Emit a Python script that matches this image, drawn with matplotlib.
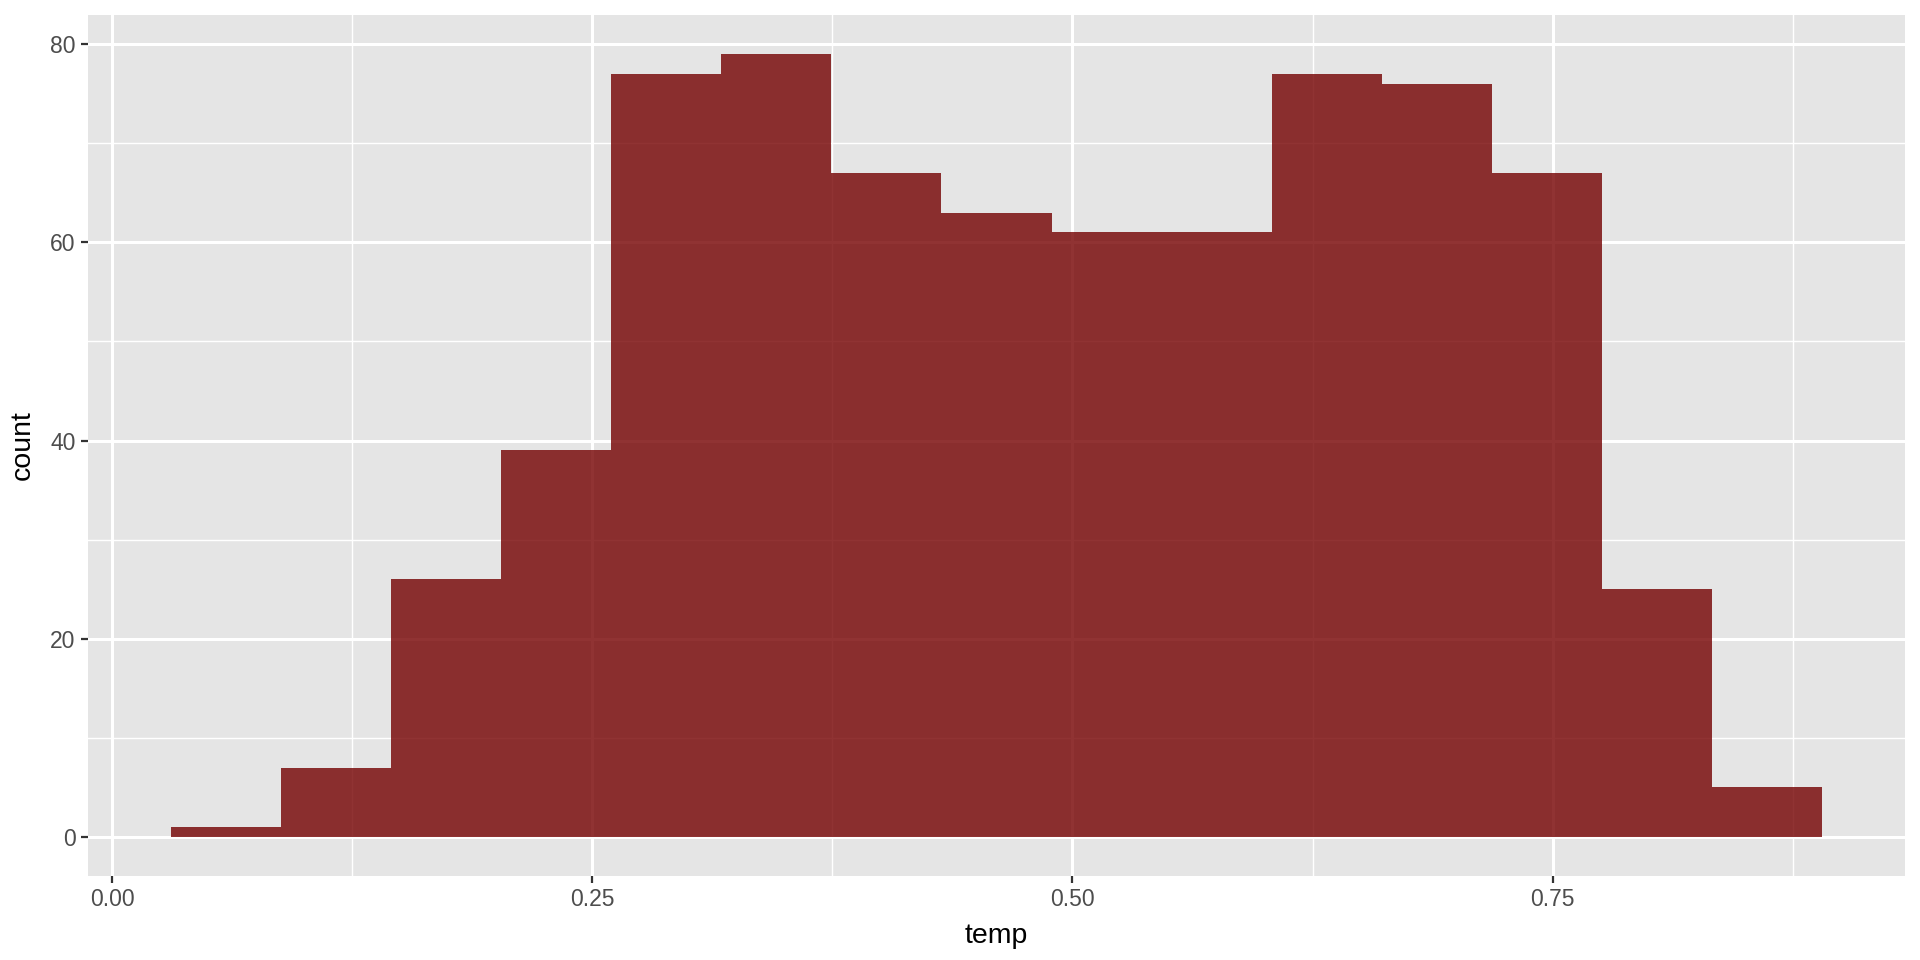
import numpy as np
import matplotlib
matplotlib.use("Agg")
import matplotlib.pyplot as plt

# histogram of temp (15 bins, ggplot style)
bin_start = 0.0305
bin_width = 0.05733
counts = [1, 7, 26, 39, 77, 79, 67, 63, 61, 61, 77, 76, 67, 25, 5]
x_ticks = [0.00, 0.25, 0.50, 0.75]
x_tick_labels = ["0.00", "0.25", "0.50", "0.75"]
y_ticks = [0, 20, 40, 60, 80]

plt.rcParams['font.family'] = ['Liberation Sans', 'DejaVu Sans']

fig = plt.figure(figsize=(19.2, 9.6), dpi=100)
ax = fig.add_axes([88 / 1920, 84 / 960, 1817 / 1920, 861 / 960])
ax.set_facecolor('#E5E5E5')

lefts = bin_start + bin_width * np.arange(len(counts))
ax.bar(lefts, counts, width=bin_width, align='edge',
       color=(116 / 255, 0, 0), alpha=0.8, linewidth=0, zorder=3)

x_lo, x_hi = lefts[0], lefts[-1] + bin_width
pad = (x_hi - x_lo) * 0.05
ax.set_xlim(x_lo - pad, x_hi + pad)
ax.set_ylim(-max(counts) * 0.05, max(counts) * 1.05)

ax.set_xticks(x_ticks)
ax.set_xticklabels(x_tick_labels)
ax.set_yticks(y_ticks)
ax.set_xticks([0.125, 0.375, 0.625, 0.875], minor=True)
ax.set_yticks([10, 30, 50, 70], minor=True)

ax.grid(which='major', color='white', linewidth=2.2, zorder=1)
ax.grid(which='minor', color='white', linewidth=1.0, zorder=1)
ax.set_axisbelow(True)

for s in ax.spines.values():
    s.set_visible(False)

ax.tick_params(which='major', length=5, width=1.6, color='#333333',
               labelsize=16.5, labelcolor='#4D4D4D', pad=4)
ax.tick_params(which='minor', length=0)

ax.set_xlabel('temp', fontsize=20.5, color='black', labelpad=8)
ax.set_ylabel('count', fontsize=20.5, color='black', labelpad=10)

fig.savefig('out.png', dpi=100, facecolor='white')
